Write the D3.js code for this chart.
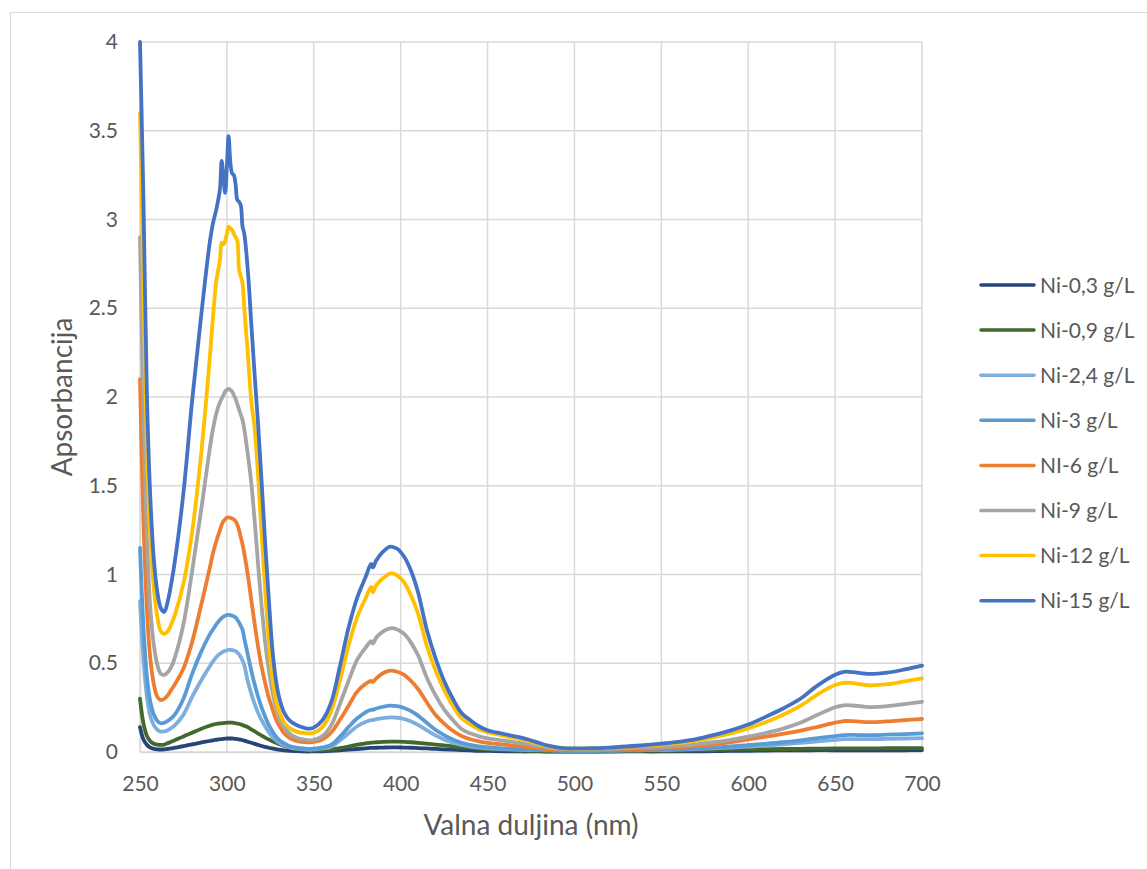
<!DOCTYPE html>
<html><head><meta charset="utf-8">
<script src="https://cdn.jsdelivr.net/npm/d3@7"></script>
<style>
html,body{margin:0;padding:0;background:#fff;}
svg text{font-family:Lato,"Open Sans",sans-serif;fill:#595959;}
</style></head>
<body><svg id="chart" width="1147" height="869"></svg>
<script>
// wavelength grid (nm)
const wavelength = [250,252,254,256,258,260,262,264,266,268,
270,275,280,285,290,292,294,296,297,298,
299,300,301,302,303,304,305,306,307,308,
309,310,312,314,316,318,320,322,324,326,
328,330,333,336,340,345,348,350,355,360,
365,370,375,380,383,384,386,390,394,398,
402,406,410,415,420,425,430,435,440,445,
450,455,460,465,470,475,480,485,490,495,
500,510,520,530,540,550,560,570,580,590,
600,610,620,630,640,650,655,660,670,680,
690,700];

const seriesNames = ["Ni-0,3 g/L","Ni-0,9 g/L","Ni-2,4 g/L","Ni-3 g/L","NI-6 g/L","Ni-9 g/L","Ni-12 g/L","Ni-15 g/L"];
const seriesColors = ["#264478","#43682B","#7CAFDD","#5B9BD5","#ED7D31","#A5A5A5","#FFC000","#4472C4"];

const ni03 = [0.14,0.07,0.04,0.025,0.018,0.015,0.014,0.015,0.017,0.02,
0.024,0.033,0.043,0.053,0.062,0.066,0.069,0.072,0.073,0.074,
0.075,0.076,0.076,0.076,0.076,0.075,0.074,0.073,0.071,0.069,
0.067,0.064,0.058,0.052,0.046,0.04,0.034,0.029,0.024,0.02,
0.016,0.013,0.009,0.007,0.005,0.003,0.003,0.003,0.004,0.006,
0.009,0.013,0.017,0.021,0.023,0.023,0.024,0.025,0.026,0.026,
0.025,0.024,0.022,0.02,0.018,0.015,0.013,0.011,0.009,0.007,
0.006,0.005,0.004,0.004,0.003,0.003,0.003,0.002,0.002,0.002,
0.002,0.002,0.002,0.003,0.003,0.003,0.004,0.004,0.005,0.006,
0.007,0.008,0.009,0.009,0.01,0.01,0.01,0.01,0.01,0.01,
0.01,0.011];

const ni09 = [0.30,0.16,0.09,0.06,0.047,0.041,0.04,0.042,0.05,0.058,
0.066,0.088,0.108,0.13,0.148,0.154,0.158,0.161,0.162,0.163,
0.164,0.165,0.165,0.165,0.165,0.164,0.162,0.16,0.158,0.155,
0.152,0.148,0.14,0.128,0.116,0.104,0.092,0.081,0.071,0.062,
0.053,0.045,0.034,0.025,0.017,0.01,0.008,0.008,0.01,0.015,
0.022,0.031,0.041,0.049,0.053,0.053,0.055,0.057,0.058,0.058,
0.057,0.055,0.052,0.047,0.042,0.037,0.031,0.026,0.022,0.018,
0.015,0.012,0.01,0.008,0.007,0.006,0.005,0.004,0.004,0.004,
0.004,0.004,0.005,0.005,0.006,0.007,0.008,0.009,0.011,0.013,
0.015,0.016,0.017,0.018,0.019,0.02,0.02,0.02,0.02,0.021,
0.021,0.022];

const ni24 = [0.85,0.52,0.31,0.2,0.15,0.125,0.115,0.116,0.123,0.135,
0.15,0.21,0.31,0.40,0.48,0.51,0.535,0.553,0.56,0.566,
0.57,0.573,0.575,0.575,0.574,0.572,0.568,0.56,0.55,0.535,
0.515,0.49,0.40,0.33,0.27,0.22,0.18,0.145,0.113,0.088,
0.068,0.052,0.036,0.026,0.019,0.015,0.014,0.015,0.02,0.03,
0.065,0.105,0.145,0.17,0.18,0.18,0.185,0.191,0.195,0.193,
0.186,0.172,0.153,0.123,0.094,0.071,0.053,0.04,0.031,0.025,
0.021,0.018,0.016,0.014,0.012,0.011,0.01,0.009,0.008,0.007,
0.007,0.007,0.008,0.009,0.01,0.011,0.013,0.016,0.02,0.025,
0.03,0.036,0.043,0.051,0.06,0.068,0.072,0.073,0.072,0.074,
0.076,0.078];

const ni3 = [1.15,0.70,0.42,0.28,0.21,0.175,0.162,0.165,0.175,0.19,
0.21,0.30,0.44,0.56,0.66,0.69,0.72,0.745,0.755,0.763,
0.768,0.771,0.772,0.771,0.768,0.764,0.758,0.745,0.73,0.71,
0.69,0.64,0.55,0.46,0.38,0.31,0.25,0.20,0.155,0.12,
0.09,0.068,0.048,0.034,0.025,0.019,0.018,0.019,0.026,0.04,
0.085,0.14,0.19,0.225,0.238,0.238,0.245,0.255,0.261,0.258,
0.248,0.23,0.205,0.165,0.125,0.095,0.07,0.052,0.04,0.032,
0.027,0.023,0.02,0.017,0.015,0.013,0.011,0.01,0.009,0.008,
0.008,0.008,0.009,0.01,0.011,0.013,0.016,0.02,0.025,0.031,
0.038,0.046,0.055,0.066,0.078,0.09,0.095,0.096,0.095,0.098,
0.101,0.105];

const ni6 = [2.10,1.30,0.80,0.52,0.38,0.31,0.293,0.30,0.32,0.35,
0.38,0.47,0.62,0.82,1.03,1.12,1.19,1.25,1.28,1.30,
1.31,1.32,1.322,1.32,1.315,1.31,1.30,1.28,1.25,1.21,
1.17,1.12,1.0,0.86,0.72,0.59,0.48,0.39,0.31,0.25,
0.19,0.15,0.105,0.08,0.063,0.056,0.055,0.057,0.07,0.11,
0.18,0.26,0.34,0.385,0.40,0.395,0.415,0.445,0.458,0.452,
0.435,0.40,0.355,0.28,0.21,0.16,0.12,0.09,0.072,0.06,
0.052,0.046,0.041,0.036,0.031,0.026,0.021,0.017,0.014,0.012,
0.011,0.011,0.012,0.014,0.017,0.021,0.026,0.033,0.042,0.055,
0.071,0.086,0.102,0.12,0.142,0.165,0.174,0.174,0.168,0.172,
0.179,0.186];

const ni9 = [2.90,1.90,1.20,0.80,0.60,0.49,0.44,0.435,0.45,0.48,
0.53,0.72,1.02,1.35,1.70,1.82,1.91,1.97,1.99,2.01,
2.03,2.04,2.045,2.04,2.03,2.01,1.99,1.96,1.93,1.90,
1.87,1.82,1.68,1.52,1.30,1.05,0.82,0.62,0.47,0.35,
0.26,0.20,0.14,0.105,0.08,0.068,0.066,0.068,0.09,0.15,
0.27,0.40,0.52,0.59,0.625,0.61,0.645,0.68,0.697,0.69,
0.665,0.615,0.545,0.42,0.32,0.24,0.18,0.13,0.105,0.088,
0.077,0.07,0.063,0.056,0.048,0.04,0.031,0.024,0.019,0.016,
0.015,0.015,0.017,0.02,0.024,0.029,0.035,0.043,0.055,0.069,
0.086,0.107,0.132,0.165,0.21,0.252,0.263,0.262,0.253,0.258,
0.27,0.283];

const ni12 = [3.60,2.60,1.70,1.20,0.92,0.76,0.68,0.665,0.68,0.72,
0.77,0.95,1.24,1.66,2.20,2.45,2.66,2.77,2.87,2.86,
2.88,2.92,2.96,2.95,2.94,2.92,2.90,2.88,2.72,2.68,
2.64,2.50,2.25,1.98,1.82,1.55,1.22,0.92,0.64,0.43,
0.30,0.23,0.165,0.135,0.115,0.106,0.105,0.108,0.14,0.23,
0.40,0.60,0.76,0.87,0.93,0.90,0.94,0.98,1.007,0.995,
0.955,0.88,0.78,0.60,0.46,0.35,0.26,0.19,0.155,0.128,
0.112,0.10,0.09,0.08,0.07,0.057,0.044,0.032,0.024,0.02,
0.019,0.02,0.023,0.028,0.034,0.042,0.05,0.063,0.082,0.105,
0.133,0.168,0.21,0.26,0.325,0.377,0.39,0.388,0.376,0.382,
0.398,0.415];

const ni15 = [4.00,3.10,2.00,1.42,1.08,0.90,0.81,0.79,0.85,0.95,
1.07,1.46,1.98,2.44,2.86,2.98,3.06,3.17,3.33,3.24,
3.15,3.30,3.47,3.32,3.26,3.25,3.20,3.11,3.10,3.08,
2.96,2.92,2.72,2.42,2.12,1.84,1.52,1.18,0.88,0.60,
0.42,0.31,0.22,0.178,0.152,0.135,0.132,0.137,0.18,0.28,
0.48,0.70,0.87,0.99,1.06,1.04,1.08,1.13,1.157,1.145,
1.10,1.02,0.90,0.69,0.53,0.40,0.30,0.22,0.18,0.145,
0.122,0.11,0.10,0.09,0.08,0.065,0.05,0.036,0.026,0.021,
0.020,0.021,0.025,0.031,0.038,0.047,0.057,0.072,0.095,0.122,
0.155,0.198,0.245,0.30,0.375,0.435,0.452,0.45,0.44,0.447,
0.465,0.487];

const seriesValues = [ni03, ni09, ni24, ni3, ni6, ni9, ni12, ni15];
const xTicks = [250,300,350,400,450,500,550,600,650,700];
const yTicks = [0,0.5,1,1.5,2,2.5,3,3.5,4];
const xTitle = "Valna duljina (nm)";
const yTitle = "Apsorbancija";

const svg = d3.select("#chart");
const L = 140, R = 922, T = 42, B = 752;
const x = d3.scaleLinear().domain([250,700]).range([L,R]);
const y = d3.scaleLinear().domain([0,4]).range([B,T]);

// outer chart border
svg.append("rect").attr("x",10.5).attr("y",12.5).attr("width",1150).attr("height",870)
  .attr("fill","none").attr("stroke","#D9D9D9").attr("stroke-width",1);

// gridlines
const grid = svg.append("g");
grid.selectAll("line.h").data(yTicks).join("line")
  .attr("x1",L).attr("x2",R).attr("y1",d=>y(d)).attr("y2",d=>y(d))
  .attr("stroke","#D9D9D9").attr("stroke-width",1.5);
grid.selectAll("line.v").data(xTicks).join("line")
  .attr("y1",T).attr("y2",B).attr("x1",d=>x(d)).attr("x2",d=>x(d))
  .attr("stroke","#D9D9D9").attr("stroke-width",1.5);

// axes (labels only)
const xAxis = d3.axisBottom(x).tickValues(xTicks).tickSize(0).tickPadding(24).tickFormat(d3.format("d"));
const gx = svg.append("g").attr("transform",`translate(0,${B})`).call(xAxis);
gx.select(".domain").attr("stroke","#D9D9D9").attr("stroke-width",1.5);
gx.selectAll("text").style("font-size","21px").attr("fill","#595959").attr("font-family","Lato");

const yAxis = d3.axisLeft(y).tickValues(yTicks).tickSize(0).tickPadding(22).tickFormat(d=>String(d));
const gy = svg.append("g").attr("transform",`translate(${L},0)`).call(yAxis);
gy.select(".domain").attr("stroke","#D9D9D9").attr("stroke-width",1.5);
gy.selectAll("text").style("font-size","21px").attr("fill","#595959").attr("font-family","Lato");

// clip
svg.append("clipPath").attr("id","clip").append("rect").attr("x",L-3).attr("y",T-3).attr("width",R-L+6).attr("height",B-T+6);

const line = d3.line().x(d=>x(d[0])).y(d=>y(d[1])).curve(d3.curveCatmullRom.alpha(0.5));
const lines = svg.append("g").attr("clip-path","url(#clip)");
seriesValues.forEach((vals,i)=>{
  const pts = wavelength.map((w,j)=>[w, vals[j]]);
  lines.append("path").datum(pts).attr("d",line)
    .attr("fill","none").attr("stroke",seriesColors[i]).attr("stroke-width",3.8)
    .attr("stroke-linejoin","round").attr("stroke-linecap","round");
});

// axis titles
svg.append("text").attr("x",(L+R)/2).attr("y",835).attr("text-anchor","middle")
  .style("font-size","28px").text(xTitle);
svg.append("text").attr("transform",`translate(72,397) rotate(-90)`).attr("text-anchor","middle")
  .style("font-size","28px").text(yTitle);

// legend
const lg = svg.append("g");
seriesNames.forEach((n,i)=>{
  const yy = 285 + i*45.1;
  lg.append("line").attr("x1",981).attr("x2",1034).attr("y1",yy).attr("y2",yy)
    .attr("stroke",seriesColors[i]).attr("stroke-width",3.5).attr("stroke-linecap","round");
  lg.append("text").attr("x",1040).attr("y",yy+7.5).style("font-size","21px").text(n);
});
</script></body></html>
